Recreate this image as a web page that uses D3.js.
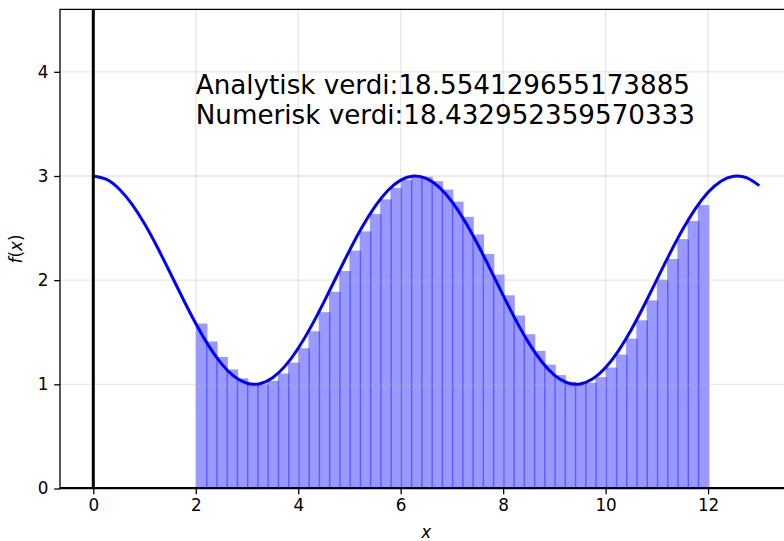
<!DOCTYPE html>
<html>
<head>
<meta charset="utf-8">
<script src="https://cdn.jsdelivr.net/npm/d3@7"></script>
<style>
  html, body { margin: 0; padding: 0; background: #fff; }
  svg { display: block; font-family: "DejaVu Sans", sans-serif; }
</style>
</head>
<body>
<svg id="chart" width="784" height="541"></svg>
<script>
// f(x) = 2 + cos(x), sampled every 0.25 from 0 to 13
const curveX = [0, 0.25, 0.5, 0.75, 1, 1.25, 1.5, 1.75, 2, 2.25, 2.5, 2.75, 3, 3.25,
                3.5, 3.75, 4, 4.25, 4.5, 4.75, 5, 5.25, 5.5, 5.75, 6, 6.25, 6.5,
                6.75, 7, 7.25, 7.5, 7.75, 8, 8.25, 8.5, 8.75, 9, 9.25, 9.5, 9.75,
                10, 10.25, 10.5, 10.75, 11, 11.25, 11.5, 11.75, 12, 12.25, 12.5,
                12.75, 13];
const curveY = [3.0000, 2.9689, 2.8776, 2.7317, 2.5403, 2.3153, 2.0707, 1.8218, 1.5839,
                1.3718, 1.1989, 1.0757, 1.0100, 1.0059, 1.0635, 1.1794, 1.3464, 1.5539,
                1.7892, 2.0376, 2.2837, 2.5121, 2.7087, 2.8612, 2.9602, 2.9994, 2.9766,
                2.8930, 2.7539, 2.5679, 2.3466, 2.1038, 1.8545, 1.6143, 1.3980, 1.2192,
                1.0889, 1.0152, 1.0028, 1.0524, 1.1609, 1.3216, 1.5245, 1.7569, 2.0044,
                2.2517, 2.4833, 2.6849, 2.8439, 2.9504, 2.9978, 2.9832, 2.9074];

// Left Riemann sum on [2, 12] with 50 rectangles of width 0.2
const barWidth = 0.2;
const barLefts = [2.0, 2.2, 2.4, 2.6, 2.8, 3.0, 3.2, 3.4, 3.6, 3.8,
                  4.0, 4.2, 4.4, 4.6, 4.8, 5.0, 5.2, 5.4, 5.6, 5.8,
                  6.0, 6.2, 6.4, 6.6, 6.8, 7.0, 7.2, 7.4, 7.6, 7.8,
                  8.0, 8.2, 8.4, 8.6, 8.8, 9.0, 9.2, 9.4, 9.6, 9.8,
                  10.0, 10.2, 10.4, 10.6, 10.8, 11.0, 11.2, 11.4, 11.6, 11.8];
const barHeights = [1.5838, 1.4115, 1.2626, 1.1431, 1.0578, 1.0100, 1.0017, 1.0332, 1.1032, 1.2090,
                    1.3464, 1.5097, 1.6927, 1.8878, 2.0875, 2.2837, 2.4685, 2.6347, 2.7756, 2.8855,
                    2.9602, 2.9965, 2.9932, 2.9502, 2.8694, 2.7539, 2.6084, 2.4385, 2.2513, 2.0540,
                    1.8545, 1.6608, 1.4807, 1.3213, 1.1889, 1.0889, 1.0252, 1.0003, 1.0153, 1.0696,
                    1.1609, 1.2857, 1.4390, 1.6147, 1.8057, 2.0044, 2.2030, 2.3935, 2.5683, 2.7204];

const xTicks = [0, 2, 4, 6, 8, 10, 12];
const yTicks = [0, 1, 2, 3, 4];
const xDomain = [-0.65, 13.65];
const yDomain = [0, 4.6];
const infoLines = ["Analytisk verdi:18.554129655173885",
                   "Numerisk verdi:18.432952359570333"];
const infoAnchor = [2, 3.5];

const svg = d3.select("#chart");
const padL = 60, padT = 9.3, plotR = 792.6, plotB = 488.5;

const x = d3.scaleLinear().domain(xDomain).range([padL, plotR]);
const y = d3.scaleLinear().domain(yDomain).range([plotB, padT]);

svg.append("defs").append("clipPath").attr("id", "plot-clip")
  .append("rect").attr("x", padL).attr("y", padT)
  .attr("width", plotR - padL).attr("height", plotB - padT);

const plot = svg.append("g").attr("clip-path", "url(#plot-clip)");

// rectangles of the Riemann sum (slight overlap gives the darker seams)
const bars = barLefts.map((b, i) => ({ x0: b, h: barHeights[i] }));
plot.append("g").selectAll("rect").data(bars).join("rect")
  .attr("x", d => x(d.x0))
  .attr("y", d => y(d.h))
  .attr("width", d => x(d.x0 + barWidth) - x(d.x0) + 1.4)
  .attr("height", d => y(0) - y(d.h))
  .attr("fill", "blue")
  .attr("fill-opacity", 0.4);

// grid
const grid = plot.append("g").attr("stroke", "#b0b0b0").attr("stroke-opacity", 0.3)
  .attr("stroke-width", 1.3);
grid.selectAll("line.gx").data(xTicks).join("line").attr("class", "gx")
  .attr("x1", d => x(d)).attr("x2", d => x(d)).attr("y1", padT).attr("y2", plotB);
grid.selectAll("line.gy").data(yTicks).join("line").attr("class", "gy")
  .attr("x1", padL).attr("x2", plotR).attr("y1", d => y(d)).attr("y2", d => y(d));

// the function curve
const line = d3.line().x(d => x(d[0])).y(d => y(d[1])).curve(d3.curveNatural);
plot.append("path")
  .datum(curveX.map((v, i) => [v, curveY[i]]))
  .attr("d", line)
  .attr("fill", "none")
  .attr("stroke", "blue")
  .attr("stroke-width", 3);

// x = 0 and y = 0 reference lines
plot.append("line").attr("x1", x(0)).attr("x2", x(0)).attr("y1", padT).attr("y2", plotB)
  .attr("stroke", "black").attr("stroke-width", 3);
plot.append("line").attr("x1", padL).attr("x2", plotR).attr("y1", y(0)).attr("y2", y(0))
  .attr("stroke", "black").attr("stroke-width", 3);

// frame
svg.append("path")
  .attr("d", `M${padL},${plotB}V${padT}H${plotR}V${plotB}Z`)
  .attr("fill", "none").attr("stroke", "black").attr("stroke-width", 1.3);

// axes
const xAxis = d3.axisBottom(x).tickValues(xTicks).tickSize(5.8).tickPadding(4.5)
  .tickFormat(d3.format("d"));
const gx = svg.append("g").attr("transform", `translate(0,${plotB})`).call(xAxis);
gx.select(".domain").remove();
gx.selectAll(".tick line").attr("stroke", "black").attr("stroke-width", 1.3);
gx.selectAll(".tick text").attr("font-size", 16.8).attr("fill", "black")
  .attr("font-family", "DejaVu Sans");

const yAxis = d3.axisLeft(y).tickValues(yTicks).tickSize(5.8).tickPadding(5.8)
  .tickFormat(d3.format("d"));
const gy = svg.append("g").attr("transform", `translate(${padL},0)`).call(yAxis);
gy.select(".domain").remove();
gy.selectAll(".tick line").attr("stroke", "black").attr("stroke-width", 1.3);
gy.selectAll(".tick text").attr("font-size", 16.8).attr("fill", "black")
  .attr("font-family", "DejaVu Sans");

// axis labels
const xl = svg.append("text").attr("x", (padL + plotR) / 2).attr("y", 537.5)
  .attr("text-anchor", "middle").attr("font-size", 16.8);
xl.append("tspan").attr("font-style", "italic").text("x");

const yl = svg.append("text")
  .attr("transform", `translate(21.5,${(padT + plotB) / 2}) rotate(-90)`)
  .attr("text-anchor", "middle").attr("font-size", 16.8);
yl.append("tspan").attr("font-style", "italic").text("f");
yl.append("tspan").text("(");
yl.append("tspan").attr("font-style", "italic").text("x");
yl.append("tspan").text(")");

// result text, last line sits on the anchor point
const info = svg.append("text").attr("font-size", 26.2).attr("fill", "black");
infoLines.forEach((t, i) => {
  info.append("tspan")
    .attr("x", x(infoAnchor[0]))
    .attr("y", y(infoAnchor[1]) - (infoLines.length - 1 - i) * 30.3)
    .text(t);
});
</script>
</body>
</html>
